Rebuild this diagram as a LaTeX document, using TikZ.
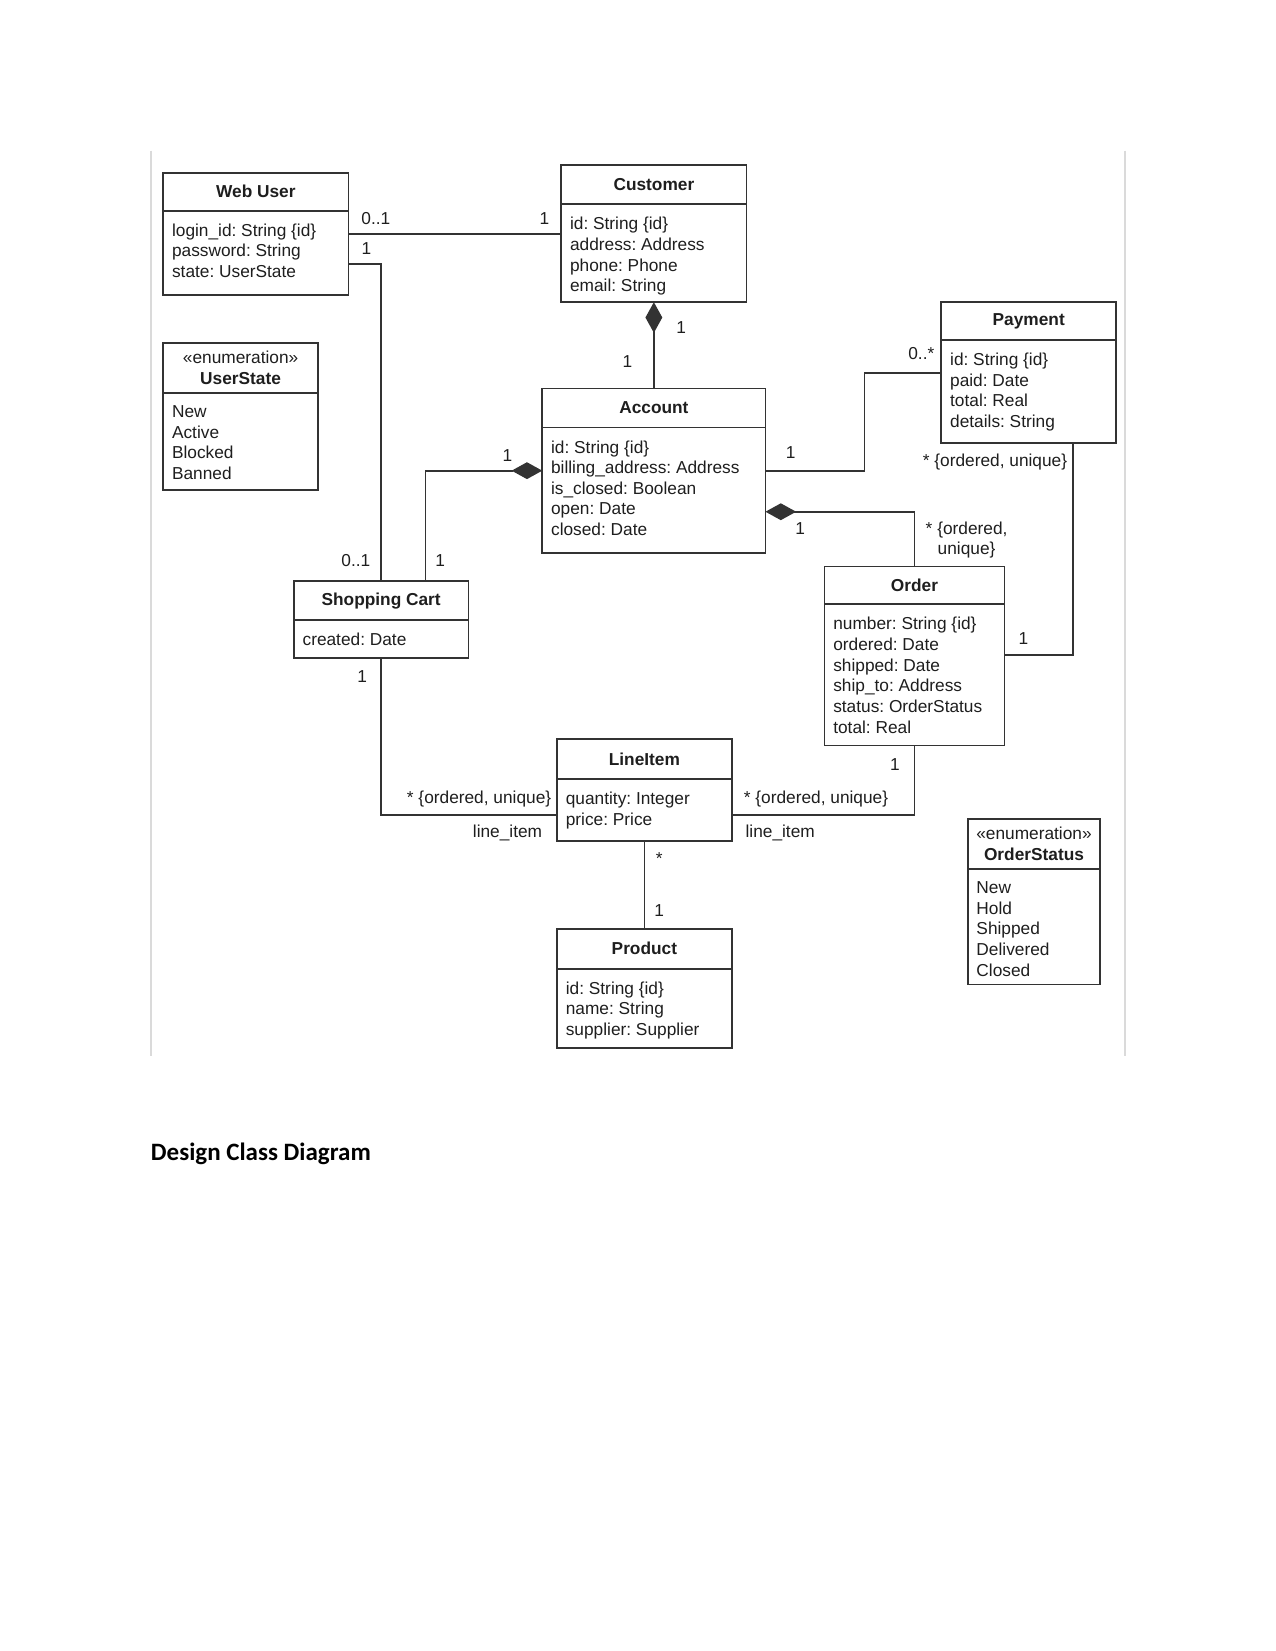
\documentclass[tikz,border=0pt]{standalone}
\usepackage{fontspec}
\setmainfont{Liberation Sans}
\newfontfamily\capfont{Carlito}
\frenchspacing
\usetikzlibrary{arrows.meta, calc}
\definecolor{cline}{HTML}{333333}
\definecolor{ctext}{HTML}{1E1E1E}
\definecolor{cframe}{HTML}{DADADA}
\newcommand{\upx}{0.50535pt}
\tikzset{
  every picture/.style={x=0.50535pt, y=-0.50535pt},
  hdr/.style={draw=cline, line width=0.9pt, outer sep=0pt, inner sep=0pt, align=center, font=\fontsize{8.3}{9.9}\selectfont\bfseries, text=ctext},
  bdy/.style={draw=cline, line width=0.9pt, outer sep=0pt, inner sep=0pt},
  attr/.style={inner sep=0pt, align=left, font=\fontsize{8.3}{9.9}\selectfont, text=ctext},
  lbl/.style={inner sep=0pt, align=center, font=\fontsize{8.3}{9.9}\selectfont, text=ctext},
  assoc/.style={draw=cline, line width=0.8pt},
  comp/.style={assoc, {Diamond[length=14.7pt, width=8.1pt]}-},
}
\newcommand{\umlclass}[7]{%
  \node[hdr, minimum width=#4*\upx, minimum height=#5*\upx, anchor=north west] (#1) at (#2,#3) {#7};
  \node[bdy, minimum width=#4*\upx, minimum height=#6*\upx, anchor=north] (#1-b) at (#1.south) {};}
\newcommand{\attrs}[2]{\node[attr, anchor=north west] (#1-t) at ($(#1-b.north west)+(8,12)$) {#2};}

\begin{document}
\begin{tikzpicture}
  \useasboundingbox (0,0) rectangle (1211,1568);
  % frame of the pasted picture
  \draw[cframe, line width=1pt] (143,143) -- (143,1003);
  \draw[cframe, line width=1pt] (1068,143) -- (1068,1003);
  % classes
  \umlclass{web}{155}{164}{176}{36}{80}{Web User}
  \attrs{web}{login\_id: String \{id\}\\password: String\\state: UserState}
  \umlclass{cust}{533}{157}{176}{37}{93}{Customer}
  \attrs{cust}{id: String \{id\}\\address: Address\\phone: Phone\\email: String}
  \umlclass{ustate}{155}{326}{147}{47}{92}{{\mdseries «enumeration»}\\UserState}
  \attrs{ustate}{New\\Active\\Blocked\\Banned}
  \umlclass{pay}{894}{287}{166}{36}{98}{Payment}
  \attrs{pay}{id: String \{id\}\\paid: Date\\total: Real\\details: String}
  \umlclass{acct}{515}{369}{212}{37}{119}{Account}
  \attrs{acct}{id: String \{id\}\\billing\_address: Address\\is\_closed: Boolean\\open: Date\\closed: Date}
  \umlclass{cart}{279}{552}{166}{37}{36}{Shopping Cart}
  \attrs{cart}{created: Date}
  \umlclass{order}{783}{538}{171}{36}{134}{Order}
  \attrs{order}{number: String \{id\}\\ordered: Date\\shipped: Date\\ship\_to: Address\\status: OrderStatus\\total: Real}
  \umlclass{item}{529}{702}{166}{38}{59}{LineItem}
  \attrs{item}{quantity: Integer\\price: Price}
  \umlclass{prod}{529}{882}{166}{38}{75}{Product}
  \attrs{prod}{id: String \{id\}\\name: String\\supplier: Supplier}
  \umlclass{ostatus}{919}{778}{126}{47}{110}{{\mdseries «enumeration»}\\OrderStatus}
  \attrs{ostatus}{New\\Hold\\Shipped\\Delivered\\Closed}
  % associations
  \coordinate (wc) at ($(web-b.north east)+(0,22)$);
  \draw[assoc] (wc) -- (wc -| cust-b.west);
  \coordinate (wk) at ($(web-b.north east)+(0,51)$);
  \draw[assoc] (wk) -| (cart.north);
  \draw[comp] (cust-b.south) -- (acct.north);
  \coordinate (ak) at ($(acct-b.north west)+(0,41)$);
  \coordinate (kt) at ($(cart.north)+(42,0)$);
  \draw[comp] (ak) -| (kt);
  \coordinate (ap) at ($(acct-b.north east)+(0,41)$);
  \coordinate (pa) at ($(pay-b.north west)+(0,31)$);
  \draw[assoc] (ap) -- ++(94,0) |- (pa);
  \coordinate (ao) at ($(acct-b.north east)+(0,80)$);
  \draw[comp] (ao) -| (order.north);
  \coordinate (po) at ($(pay-b.south)+(42,0)$);
  \coordinate (op) at ($(order-b.north east)+(0,48)$);
  \draw[assoc] (po) |- (op);
  \coordinate (ik) at ($(item-b.north west)+(0,34)$);
  \draw[assoc] (cart-b.south) |- (ik);
  \coordinate (io) at ($(item-b.north east)+(0,34)$);
  \draw[assoc] (order-b.south) |- (io);
  \draw[assoc] (item-b.south) -- (prod.north);
  % multiplicities
  \node[lbl] (m1) at (357,208) {0..1};
  \node[lbl] (m2) at (517,208) {1};
  \node[lbl] (m3) at (348,236) {1};
  \node[lbl] (m4) at (338,532) {0..1};
  \node[lbl] (m5) at (647,311) {1};
  \node[lbl] (m6) at (596,343) {1};
  \node[lbl] (m7) at (482,433) {1};
  \node[lbl] (m8) at (418,532) {1};
  \node[lbl] (m9) at (751,430) {1};
  \node[lbl] (m10) at (875,336) {0..*};
  \node[lbl] (m11) at (760,502) {1};
  \node[lbl] (m12) at (918,513) {* \{ordered,\\unique\}};
  \node[lbl] (m13) at (945,439) {* \{ordered, unique\}};
  \node[lbl] (m14) at (972,606) {1};
  \node[lbl] (m15) at (344,643) {1};
  \node[lbl] (m16) at (455,759) {* \{ordered, unique\}};
  \node[lbl] (m17) at (482,791) {line\_item};
  \node[lbl] (m18) at (850,726) {1};
  \node[lbl] (m19) at (775,759) {* \{ordered, unique\}};
  \node[lbl] (m20) at (741,791) {line\_item};
  \node[lbl] (m21) at (626,815) {*};
  \node[lbl] (m22) at (626,865) {1};
  % caption
  \node[font=\capfont\fontsize{12}{14}\selectfont\bfseries, anchor=west, inner sep=0pt] (caption) at (143,1096) {Design Class Diagram};
\end{tikzpicture}
\end{document}
